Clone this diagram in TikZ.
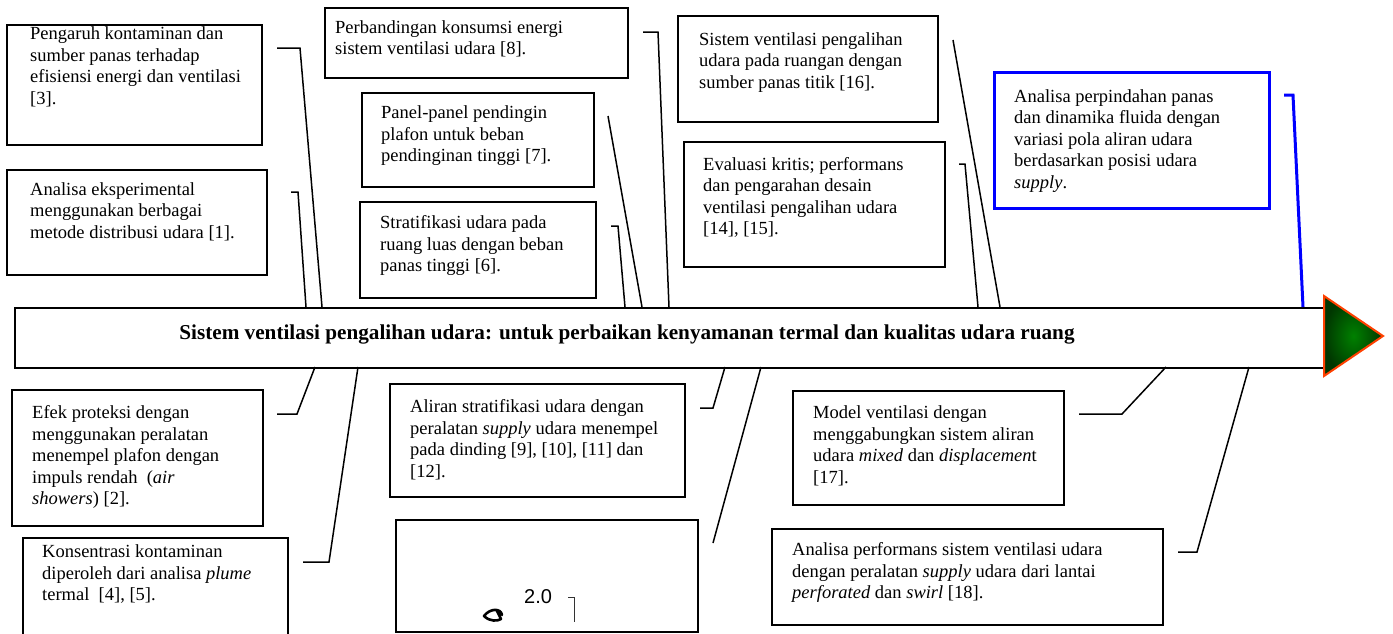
\documentclass[tikz,border=0pt]{standalone}
\usepackage{fontspec}
\setmainfont{Liberation Serif}
\newfontfamily\arialf{Liberation Sans}
\definecolor{boxblue}{RGB}{0,0,255}
\definecolor{tribord}{RGB}{255,64,0}
\definecolor{trin}{RGB}{0,128,0}
\definecolor{triout}{RGB}{0,55,0}
\begin{document}
\begin{tikzpicture}[x=1pt,y=-1pt,
 box/.style={draw=black, line width=1.5pt, anchor=north west, inner sep=0pt},
 bluebox/.style={box, draw=boxblue, line width=3pt},
 txt/.style={anchor=north west, inner sep=0pt, align=left, font=\fontsize{18.5}{21.5}\selectfont},
 conn/.style={draw=black, line width=1.5pt},
 blueconn/.style={draw=boxblue, line width=3pt},
]
\clip (0,0) rectangle (1393,633);
\useasboundingbox (0,0) rectangle (1393,633);

% main bar
\node[box, minimum width=1310pt, minimum height=60pt] (bar) at (14,307) {};
\node[anchor=base, inner sep=0pt, font=\bfseries\fontsize{21.2}{24}\selectfont] (title) at (627,339)
 {Sistem ventilasi pengalihan udara: untuk perbaikan kenyamanan termal dan kualitas udara ruang};
\shadedraw[inner color=trin, outer color=triout, draw=tribord, line width=2pt, line join=miter]
 (1324,296) -- (1383,336) -- (1324,376) -- cycle;

% upper boxes
\node[box, minimum width=255pt, minimum height=120pt] (b3) at (6,24) {};
\node[txt] (t3) at (30,26.5) {Pengaruh kontaminan dan\\sumber panas terhadap\\efisiensi energi dan ventilasi\\{[3].}};
\node[box, minimum width=260pt, minimum height=105pt] (b1) at (6,169) {};
\node[txt] (t1) at (30,182) {Analisa eksperimental\\menggunakan berbagai\\metode distribusi udara [1].};
\node[box, minimum width=303pt, minimum height=70pt] (b8) at (324,7) {};
\node[txt] (t8) at (335,20) {Perbandingan konsumsi energi\\sistem ventilasi udara [8].};
\node[box, minimum width=232pt, minimum height=94pt] (b7) at (361,92) {};
\node[txt] (t7) at (381,105.5) {Panel-panel pendingin\\plafon untuk beban\\pendinginan tinggi [7].};
\node[box, minimum width=236pt, minimum height=96pt] (b6) at (359,201) {};
\node[txt] (t6) at (380,215.5) {Stratifikasi udara pada\\ruang luas dengan beban\\panas tinggi [6].};
\node[box, minimum width=260pt, minimum height=106pt] (b16) at (677,15) {};
\node[txt] (t16) at (699,32) {Sistem ventilasi pengalihan\\udara pada ruangan dengan\\sumber panas titik [16].};
\node[box, minimum width=261pt, minimum height=125pt] (b14) at (683,141) {};
\node[txt] (t14) at (703,157) {Evaluasi kritis; performans\\dan pengarahan desain\\ventilasi pengalihan udara\\{[14], [15].}};
\node[bluebox, minimum width=275pt, minimum height=136pt] (bb) at (993,71) {};
\node[txt] (tb) at (1014,89) {Analisa perpindahan panas\\dan dinamika fluida dengan\\variasi pola aliran udara\\berdasarkan posisi udara\\\textit{supply}.};

% lower boxes
\node[box, minimum width=251pt, minimum height=136pt] (b2) at (11,389) {};
\node[txt] (t2) at (32,405.5) {Efek proteksi dengan\\menggunakan peralatan\\menempel plafon dengan\\impuls rendah ~(\textit{air}\\\textit{showers}) [2].};
\node[box, minimum width=265pt, minimum height=120pt] (b45) at (22,537) {};
\node[txt] (t45) at (42,544.5) {Konsentrasi kontaminan\\diperoleh dari analisa \textit{plume}\\termal ~[4], [5].};
\node[box, minimum width=295pt, minimum height=113pt] (b9) at (389,383) {};
\node[txt] (t9) at (410,399.5) {Aliran stratifikasi udara dengan\\peralatan \textit{supply} udara menempel\\pada dinding [9], [10], [11] dan\\{[12].}};
\node[box, minimum width=302pt, minimum height=112pt] (b20) at (395,519) {};
\node[anchor=base west, inner sep=0pt, font=\arialf\fontsize{20}{22}\selectfont] (num) at (524,603) {2.0};
\draw[line width=0.8pt, black!80] (568,597) -- (574,597) -- (574,622);
\draw[line width=2.6pt, line cap=round, line join=round] (502,615) .. controls (501,608) and (490,608) .. (484,616)
  .. controls (490,622) and (498,621) .. (501,619) -- (497,611);
\node[box, minimum width=271pt, minimum height=114pt] (b17) at (792,390) {};
\node[txt] (t17) at (813,405.5) {Model ventilasi dengan\\menggabungkan sistem aliran\\udara \textit{mixed} dan \textit{displacemen}t\\{[17].}};
\node[box, minimum width=391pt, minimum height=96pt] (b18) at (771,528) {};
\node[txt] (t18) at (792,542.5) {Analisa performans sistem ventilasi udara\\dengan peralatan \textit{supply} udara dari lantai\\\textit{perforated} dan \textit{swirl} [18].};

% connector end points
\coordinate (s3) at (277,48);   \coordinate (e3) at (322,307);
\coordinate (s1) at (291,192);  \coordinate (e1) at (306,307);
\coordinate (s8) at (643,32);   \coordinate (e8) at (669,307);
\coordinate (s7) at (608,116);  \coordinate (e7) at (642,307);
\coordinate (s6) at (611,226);  \coordinate (e6) at (625,307);
\coordinate (s16) at (953,40);  \coordinate (e16) at (1000,307);
\coordinate (s14) at (959,164); \coordinate (e14) at (978,307);
\coordinate (sb) at (1284,95);  \coordinate (eb) at (1303,307);
\coordinate (s2) at (277,414);  \coordinate (e2) at (315,367);
\coordinate (s45) at (303,562); \coordinate (e45) at (358,367);
\coordinate (s9) at (700,408);  \coordinate (e9) at (725,367);
\coordinate (s20) at (713,543); \coordinate (e20) at (761,367);
\coordinate (s17) at (1079,414);\coordinate (e17) at (1166,367);
\coordinate (s18) at (1178,552);\coordinate (e18) at (1249,367);

\draw[conn] (s3) -- ++(23,0) -- (e3);
\draw[conn] (s1) -- ++(7,0) -- (e1);
\draw[conn] (s8) -- ++(15,0) -- (e8);
\draw[conn] (s7) -- (e7);
\draw[conn] (s6) -- ++(7,0) -- (e6);
\draw[conn] (s16) -- (e16);
\draw[conn] (s14) -- ++(6,0) -- (e14);
\draw[blueconn] (sb) -- ++(9,0) -- (eb);
\draw[conn] (s2) -- ++(20,0) -- (e2);
\draw[conn] (s45) -- ++(26,0) -- (e45);
\draw[conn] (s9) -- ++(13,0) -- (e9);
\draw[conn] (s20) -- (e20);
\draw[conn] (s17) -- ++(43,0) -- (e17);
\draw[conn] (s18) -- ++(19,0) -- (e18);
\end{tikzpicture}
\end{document}
